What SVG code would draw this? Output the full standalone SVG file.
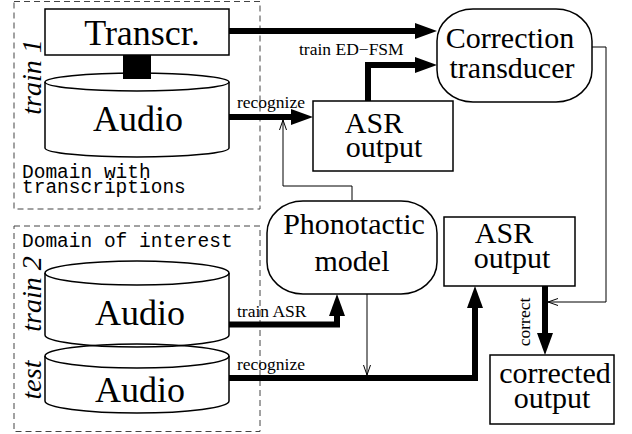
<svg xmlns="http://www.w3.org/2000/svg" width="632" height="434" viewBox="0 0 632 434">
<defs>
<style>
.bg{fill:#fff}
.box{fill:#fff;stroke:#000;stroke-width:1.5}
.cyl{fill:none;stroke:#000;stroke-width:1.5}
.dash{fill:none;stroke:#444;stroke-width:1;stroke-dasharray:6,4}
.big{font-family:"Liberation Serif","Times New Roman",serif;font-size:36px;text-anchor:middle;fill:#000}
.node{font-family:"Liberation Serif","Times New Roman",serif;font-size:30px;text-anchor:middle;fill:#000}
.lab{font-family:"Liberation Serif","Times New Roman",serif;font-size:17.5px;fill:#000}
.side{font-family:"Liberation Serif","Times New Roman",serif;font-size:28px;font-style:italic;text-anchor:middle;fill:#000}
.mono{font-family:"Liberation Mono","Courier New",monospace;font-size:19.5px;fill:#000}
.thick{fill:none;stroke:#000;stroke-width:6;stroke-linejoin:miter}
.thin{fill:none;stroke:#000;stroke-width:1}
</style>
<marker id="ah" markerUnits="userSpaceOnUse" markerWidth="24" markerHeight="18" refX="0" refY="8" orient="auto" overflow="visible">
<path d="M0,0 L22,8 L0,16 Z" fill="#000"/>
</marker>
<marker id="oh" markerUnits="userSpaceOnUse" markerWidth="12" markerHeight="8" refX="10" refY="4" orient="auto" overflow="visible">
<path d="M0,0.5 L10,4 L0,7.5" fill="none" stroke="#000" stroke-width="1"/>
</marker>
</defs>
<rect class="bg" width="632" height="434"/>

<g id="domain-transcriptions">
<rect class="dash" x="14" y="1.5" width="246" height="207.5"/>
<text class="mono" x="22" y="178">Domain with</text>
<text class="mono" x="22" y="193">transcriptions</text>
<text class="side" transform="translate(41,77) rotate(-90)">train 1</text>
</g>

<g id="domain-interest">
<rect class="dash" x="14" y="226" width="246" height="205.5"/>
<text class="mono" x="22" y="247">Domain of interest</text>
<text class="side" transform="translate(41,294) rotate(-90)">train 2</text>
<text class="side" transform="translate(41,380) rotate(-90)">test</text>
</g>

<g id="connectors">
<rect x="123" y="55" width="28" height="24" fill="#000"/>
<path class="thick" d="M229,31 H415" marker-end="url(#ah)"/>
<path class="thick" d="M368,101 V65 H415" marker-end="url(#ah)"/>
<path class="thick" d="M229,117 H291" marker-end="url(#ah)"/>
<path class="thick" d="M229,324.5 H337 V316" marker-end="url(#ah)"/>
<path class="thick" d="M229,378 H475 V308" marker-end="url(#ah)"/>
<path class="thick" d="M545,286 V333" marker-end="url(#ah)"/>
<path class="thin" d="M352,200 V186 H283 V120" marker-end="url(#oh)"/>
<path class="thin" d="M367,294 V375" marker-end="url(#oh)"/>
<path class="thin" d="M592,47 H606 V302 H548" marker-end="url(#oh)"/>
<text class="lab" x="299" y="55">train ED−FSM</text>
<text class="lab" x="237" y="108">recognize</text>
<text class="lab" x="237" y="317">train ASR</text>
<text class="lab" x="237" y="370">recognize</text>
<text class="lab" transform="translate(530,322) rotate(-90)" text-anchor="middle">correct</text>
</g>

<g id="transcr">
<rect class="box" x="45" y="9" width="184" height="46"/>
<text class="big" x="142" y="45">Transcr.</text>
</g>

<g id="audio1">
<path class="cyl" d="M45,82 V148 A92,9 0 0 0 229,148 V82"/>
<ellipse class="cyl" cx="137" cy="82" rx="92" ry="9"/>
<text class="big" x="138" y="131">Audio</text>
</g>

<g id="audio-test">
<path class="cyl" d="M45,356 V401 A92,12 0 0 0 229,401 V356"/>
<ellipse class="cyl" cx="137" cy="356" rx="92" ry="12"/>
<text class="big" x="140" y="402">Audio</text>
</g>

<g id="audio-train2">
<path class="cyl" d="M45,273 V335 A92,12 0 0 0 229,335 V273"/>
<ellipse class="cyl" cx="137" cy="273" rx="92" ry="12"/>
<text class="big" x="140" y="325">Audio</text>
</g>

<g id="correction">
<rect class="box" x="437" y="9" width="155" height="93" rx="36" ry="32"/>
<text class="node" x="510" y="48">Correction</text>
<text class="node" x="512" y="78">transducer</text>
</g>

<g id="asr1">
<rect class="box" x="313" y="101" width="140" height="70"/>
<text class="node" x="374" y="133">ASR</text>
<text class="node" x="384" y="157">output</text>
</g>

<g id="phonotactic">
<rect class="box" x="267" y="201" width="170" height="93" rx="36" ry="32"/>
<text class="node" x="354" y="234">Phonotactic</text>
<text class="node" x="352" y="271">model</text>
</g>

<g id="asr2">
<rect class="box" x="444" y="217" width="131" height="69"/>
<text class="node" x="504" y="243">ASR</text>
<text class="node" x="512" y="268">output</text>
</g>

<g id="corrected">
<rect class="box" x="490" y="355" width="124" height="69"/>
<text class="node" x="555" y="383">corrected</text>
<text class="node" x="552" y="408">output</text>
</g>
</svg>
